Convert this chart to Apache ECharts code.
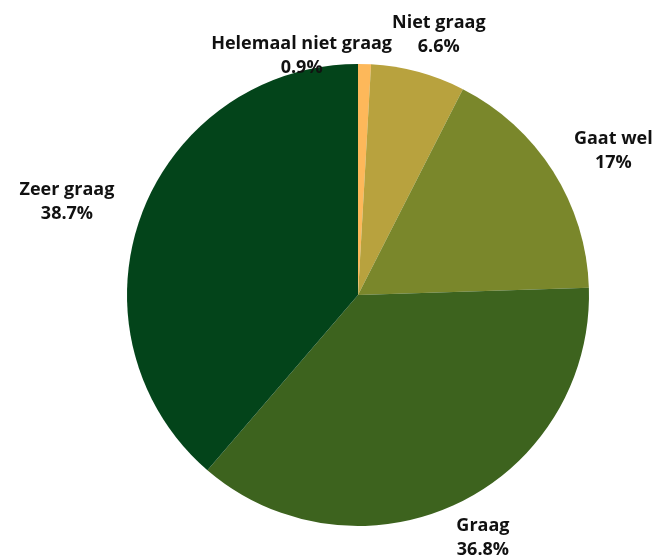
<!DOCTYPE html>
<html>
<head>
<meta charset="utf-8">
<script src="https://cdn.jsdelivr.net/npm/echarts@6/dist/echarts.min.js"></script>
<style>
  html, body { margin: 0; padding: 0; background: #ffffff; }
  #chart { width: 668px; height: 558px; }
</style>
</head>
<body>
<div id="chart"></div>
<script>
// Answer categories, clockwise from the top
const categories = ['Helemaal niet graag', 'Niet graag', 'Gaat wel', 'Graag', 'Zeer graag'];
// Share of respondents (%)
const shares = [0.9, 6.6, 17, 36.8, 38.7];
const sliceColors = ['#fdb85a', '#b8a23e', '#7a872b', '#3d631e', '#03441a'];

const CENTER = [358, 295];
const RADIUS = 231;
const FONT_SIZE = 18;
const LINE_HEIGHT = 24;
const FONT = 'bold ' + FONT_SIZE + 'px "Open Sans", sans-serif';
const GAP_X = 32;   // label distance beyond the rim, sideways
const GAP_Y = 14;   // label distance beyond the rim, up/down
const RIM_OVERLAP = 9; // how far a slid label may sink towards the rim

const labelText = i => categories[i] + '\n' + shares[i] + '%';

// Place every label on its slice's middle ray, just outside the pie,
// then slide colliding small-slice labels aside.
function computeLabelCentres() {
  const ctx = document.createElement('canvas').getContext('2d');
  ctx.font = FONT;
  const total = shares.reduce((a, b) => a + b, 0);
  let acc = 0;
  const boxes = shares.map((v, i) => {
    const mid = (acc + v / 2) / total * Math.PI * 2;
    acc += v;
    const dx = Math.sin(mid), dy = -Math.cos(mid);
    const w = Math.max(...labelText(i).split('\n').map(s => ctx.measureText(s).width));
    const h = LINE_HEIGHT * 2;
    const cx = CENTER[0] + dx * (RADIUS + GAP_X) + dx * w / 2;
    const cy = CENTER[1] + dy * (RADIUS + GAP_Y) + dy * h / 2;
    return { cx, cy, w, h, dy };
  });
  const overlaps = (a, b) =>
    Math.abs(a.cx - b.cx) < (a.w + b.w) / 2 && Math.abs(a.cy - b.cy) < (a.h + b.h) / 2;
  for (let i = 0; i < boxes.length; i++) {
    const a = boxes[i], b = boxes[(i + 1) % boxes.length];
    if (a === b || !overlaps(a, b)) continue;
    const small = shares[i] <= shares[(i + 1) % boxes.length] ? a : b;
    const other = small === a ? b : a;
    // move sideways until the boxes just touch
    if (small.cx <= other.cx) small.cx = other.cx - (other.w + small.w) / 2;
    else small.cx = other.cx + (other.w + small.w) / 2;
    // then let it rest on the rim below/above
    const off = Math.min(Math.abs(small.cx - CENTER[0]), RADIUS);
    const rim = Math.sqrt(RADIUS * RADIUS - off * off);
    small.cy = small.dy < 0 ? CENTER[1] - rim - small.h / 2 + RIM_OVERLAP
                            : CENTER[1] + rim + small.h / 2 - RIM_OVERLAP;
  }
  return boxes;
}

const chart = echarts.init(document.getElementById('chart'), null, { renderer: 'canvas' });
const labelBoxes = computeLabelCentres();

chart.setOption({
  animation: false,
  backgroundColor: '#ffffff',
  series: [{
    type: 'pie',
    center: CENTER,
    radius: [0, RADIUS],
    startAngle: 90,
    clockwise: true,
    data: categories.map((name, i) => ({
      name: name,
      value: shares[i],
      itemStyle: { color: sliceColors[i] }
    })),
    label: {
      show: true,
      position: 'outside',
      overflow: 'none',
      formatter: p => labelText(p.dataIndex),
      fontFamily: '"Open Sans", sans-serif',
      fontWeight: 'bold',
      fontSize: FONT_SIZE,
      lineHeight: LINE_HEIGHT,
      color: '#111111'
    },
    labelLine: { show: false },
    labelLayout: function (params) {
      const b = labelBoxes[params.dataIndex];
      return { x: b.cx, y: b.cy, align: 'center', verticalAlign: 'middle' };
    }
  }]
});
</script>
</body>
</html>
